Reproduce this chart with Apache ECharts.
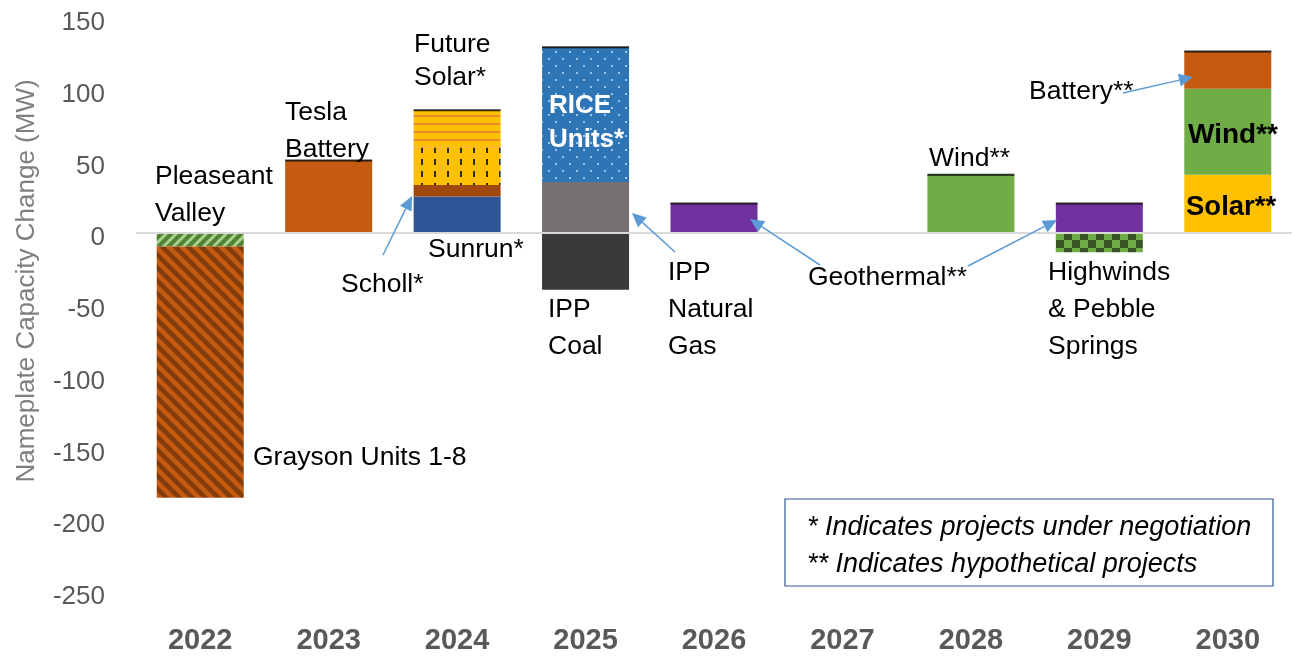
<!DOCTYPE html>
<html>
<head>
<meta charset="utf-8">
<script src="https://cdn.jsdelivr.net/npm/echarts@6/dist/echarts.min.js"></script>
<style>
  html, body { margin: 0; padding: 0; background: #fff; }
  #chart { width: 1294px; height: 660px; }
</style>
</head>
<body>
<div id="chart"></div>
<script>
// categories
const years = ['2022', '2023', '2024', '2025', '2026', '2027', '2028', '2029', '2030'];

// y axis ticks
const yMin = -250;
const yMax = 150;
const yStep = 50;

// series values (MW), one entry per year
const pleasantValley = [-10, null, null, null, null, null, null, null, null];
const grayson        = [-175, null, null, null, null, null, null, null, null];
const sunrun         = [null, null, 25, null, null, null, null, null, null];
const scholl         = [null, null, 8, null, null, null, null, null, null];
const solarDots      = [null, null, 26, null, null, null, null, null, null];
const futureSolar    = [null, null, 26, null, null, null, null, null, null];
const ippGas         = [null, null, null, 35, null, null, null, null, null];
const riceUnits      = [null, null, null, 94, null, null, null, null, null];
const ippCoal        = [null, null, null, -40, null, null, null, null, null];
const geothermal     = [null, null, null, null, 20, null, null, 20, null];
const solar          = [null, null, null, null, null, null, null, null, 40];
const wind           = [null, null, null, null, null, null, 40, null, 60];
const battery        = [null, 50, null, null, null, null, null, null, 26];
const highwinds      = [null, null, null, null, null, null, null, -14, null];

const positives = [sunrun, scholl, solarDots, futureSolar, ippGas, riceUnits, geothermal, solar, wind, battery];

// pattern helper
function pattern(w, h, draw) {
    const c = document.createElement('canvas');
    c.width = w;
    c.height = h;
    draw(c.getContext('2d'), w, h);
    return { image: c, repeat: 'repeat' };
}

function diag(bg, fg, s, lw, down) {
    return pattern(s, s, function (ctx) {
        ctx.fillStyle = bg;
        ctx.fillRect(0, 0, s, s);
        ctx.strokeStyle = fg;
        ctx.lineWidth = lw;
        for (let k = -2; k <= 2; k++) {
            ctx.beginPath();
            if (down) {
                ctx.moveTo(-s, k * s - s);
                ctx.lineTo(2 * s, k * s + 2 * s);
            } else {
                ctx.moveTo(-s, k * s + 2 * s);
                ctx.lineTo(2 * s, k * s - s);
            }
            ctx.stroke();
        }
    });
}

const graysonFill = diag('#843c0c', '#c55a11', 13, 4.5, true);
const pleasantFill = diag('#548235', '#a9d18e', 10, 3, false);
const dashFill = pattern(13, 12, function (ctx, w, h) {
    ctx.fillStyle = '#ffc000';
    ctx.fillRect(0, 0, w, h);
    ctx.fillStyle = '#2b2b2b';
    ctx.fillRect(5, 3, 2, 6);
});
const stripeFill = pattern(8, 8, function (ctx, w, h) {
    ctx.fillStyle = '#ffc000';
    ctx.fillRect(0, 0, w, h);
    ctx.fillStyle = '#f08c28';
    ctx.fillRect(0, 3, w, 2);
});
const riceFill = pattern(14, 14, function (ctx, w, h) {
    ctx.fillStyle = '#2e75b6';
    ctx.fillRect(0, 0, w, h);
    ctx.fillStyle = '#9dc3e6';
    ctx.fillRect(2, 2, 2, 2);
    ctx.fillRect(9, 9, 2, 2);
});
const checkFill = pattern(16, 16, function (ctx, w, h) {
    ctx.fillStyle = '#70ad47';
    ctx.fillRect(0, 0, w, h);
    ctx.fillStyle = '#375623';
    ctx.fillRect(0, 0, 8, 8);
    ctx.fillRect(8, 8, 8, 8);
});

function bar(name, data, color) {
    return {
        name: name,
        type: 'bar',
        stack: 'total',
        barWidth: 87,
        data: data,
        itemStyle: { color: color },
        silent: true
    };
}

// black line on top of every positive stack
const tops = years.map(function (y, i) {
    let s = 0;
    positives.forEach(function (arr) { if (arr[i]) s += arr[i]; });
    return s > 0 ? [i, s] : null;
}).filter(Boolean);

const series = [
    Object.assign(bar('Pleaseant Valley', pleasantValley, pleasantFill), {
        markLine: {
            silent: true,
            symbol: 'none',
            label: { show: false },
            lineStyle: { color: '#d9d9d9', width: 2, type: 'solid' },
            data: [{ yAxis: 0 }]
        }
    }),
    bar('Grayson Units 1-8', grayson, graysonFill),
    bar('Sunrun', sunrun, '#2f5597'),
    bar('Scholl', scholl, '#9e480e'),
    bar('Solar (dots)', solarDots, dashFill),
    bar('Future Solar', futureSolar, stripeFill),
    bar('IPP Natural Gas', ippGas, '#767171'),
    bar('RICE Units', riceUnits, riceFill),
    bar('IPP Coal', ippCoal, '#3a3838'),
    bar('Geothermal', geothermal, '#7030a0'),
    bar('Solar', solar, '#ffc000'),
    bar('Wind', wind, '#70ad47'),
    bar('Battery', battery, '#c55a11'),
    bar('Highwinds & Pebble Springs', highwinds, checkFill),
    {
        type: 'scatter',
        data: tops,
        symbol: 'rect',
        symbolSize: [87, 2],
        itemStyle: { color: '#000' },
        silent: true,
        z: 5
    }
];

// annotations
const FONT = 'Liberation Sans';
function label(text, x, cy, opt) {
    opt = opt || {};
    return {
        type: 'text',
        x: x,
        y: cy,
        z: 100,
        silent: true,
        style: {
            text: text,
            fill: opt.color || '#000',
            fontSize: opt.size || 26.5,
            fontFamily: FONT,
            fontWeight: opt.bold ? 'bold' : 'normal',
            fontStyle: opt.italic ? 'italic' : 'normal',
            lineHeight: opt.lh || 37,
            align: 'left',
            verticalAlign: 'middle',
            textAlign: 'left',
            textVerticalAlign: 'middle'
        }
    };
}

function arrow(x1, y1, x2, y2) {
    const dx = x2 - x1, dy = y2 - y1;
    const len = Math.hypot(dx, dy);
    const ux = dx / len, uy = dy / len;
    const hl = 14, hw = 6.5;
    const bx = x2 - ux * hl, by = y2 - uy * hl;
    return [
        { type: 'line', silent: true, z: 100, shape: { x1: x1, y1: y1, x2: bx, y2: by },
          style: { stroke: '#5b9bd5', lineWidth: 1.5 } },
        { type: 'polygon', silent: true, z: 100,
          shape: { points: [[x2, y2], [bx - uy * hw, by + ux * hw], [bx + uy * hw, by - ux * hw]] },
          style: { fill: '#5b9bd5' } }
    ];
}

const graphics = [
    {
        type: 'text', x: 27, y: 281, rotation: Math.PI / 2, silent: true,
        style: {
            text: 'Nameplate Capacity Change (MW)', fill: '#7f7f7f', fontSize: 26, fontFamily: FONT,
            align: 'center', verticalAlign: 'middle', textAlign: 'center', textVerticalAlign: 'middle'
        }
    },
    label('Pleaseant\nValley', 155, 195),
    label('Tesla\nBattery', 285, 131),
    label('Future\nSolar*', 414, 61, { lh: 33 }),
    label('Sunrun*', 428, 250),
    label('Scholl*', 341, 285),
    label('RICE\nUnits*', 549, 123, { color: '#fff', bold: true, lh: 34, size: 26 }),
    label('IPP\nCoal', 548, 328),
    label('IPP\nNatural\nGas', 668, 310),
    label('Geothermal**', 808, 278),
    label('Wind**', 929, 159),
    label('Highwinds\n& Pebble\nSprings', 1048, 310),
    label('Battery**', 1029, 92),
    label('Wind**', 1188, 135, { bold: true, size: 28 }),
    label('Solar**', 1186, 207, { bold: true, size: 27.5 }),
    label('Grayson Units 1-8', 253, 458),
    {
        type: 'rect', silent: true, z: 90,
        shape: { x: 785, y: 499, width: 488, height: 87 },
        style: { fill: '#fff', stroke: '#2f5597', lineWidth: 1.2 }
    },
    label('* Indicates projects under negotiation', 807, 527, { italic: true, size: 27 }),
    label('** Indicates hypothetical projects', 807, 564, { italic: true, size: 27 })
]
.concat(arrow(383, 255, 412, 196))
.concat(arrow(675, 252, 632, 213))
.concat(arrow(820, 265, 750, 219))
.concat(arrow(968, 266, 1057, 220))
.concat(arrow(1123, 93, 1193, 77));

const chart = echarts.init(document.getElementById('chart'));
chart.setOption({
    animation: false,
    textStyle: { fontFamily: FONT },
    grid: { left: 136, right: 2, top: 17, bottom: 69 },
    xAxis: {
        type: 'category',
        data: years,
        axisLine: { show: false, onZero: false },
        axisTick: { show: false },
        axisLabel: { color: '#595959', fontSize: 29, fontWeight: 'bold', margin: 35, fontFamily: FONT }
    },
    yAxis: {
        type: 'value',
        min: yMin,
        max: yMax,
        interval: yStep,
        axisLine: { show: false },
        axisTick: { show: false },
        splitLine: { show: false },
        axisLabel: { color: '#595959', fontSize: 26, margin: 31, fontFamily: FONT, verticalAlign: 'top', lineHeight: 12 }
    },
    series: series,
    graphic: graphics
});
</script>
</body>
</html>
